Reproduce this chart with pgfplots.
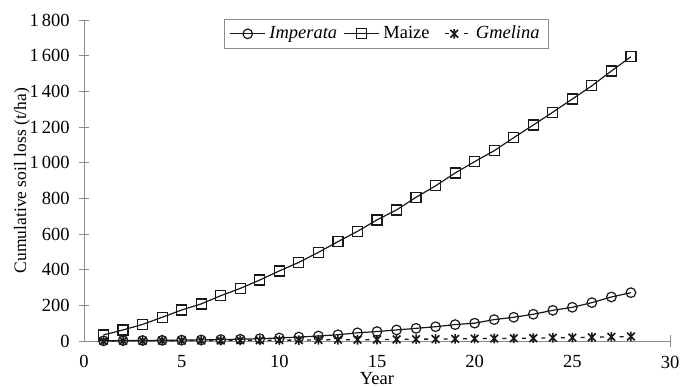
\documentclass[border=0pt]{standalone}
\usepackage{fontspec}
\setmainfont{Liberation Serif}
\usepackage{pgfplots}
\pgfplotsset{compat=1.18}
\definecolor{axgray}{RGB}{140,140,140}
\definecolor{linec}{RGB}{25,25,25}
\pgfdeclareplotmark{zhe}{%
 \pgfpathmoveto{\pgfqpoint{0pt}{\pgfplotmarksize}}\pgfpathlineto{\pgfqpoint{0pt}{-\pgfplotmarksize}}%
 \pgfpathmoveto{\pgfqpoint{-0.8\pgfplotmarksize}{0.8\pgfplotmarksize}}\pgfpathlineto{\pgfqpoint{0.8\pgfplotmarksize}{-0.8\pgfplotmarksize}}%
 \pgfpathmoveto{\pgfqpoint{0.8\pgfplotmarksize}{0.8\pgfplotmarksize}}\pgfpathlineto{\pgfqpoint{-0.8\pgfplotmarksize}{-0.8\pgfplotmarksize}}%
 \pgfusepathqstroke}
\begin{document}
\fontsize{18.5bp}{22bp}\selectfont
\begin{tikzpicture}
\begin{axis}[
  scale only axis,
  width=586bp, height=321bp,
  xmin=0, xmax=30, ymin=0, ymax=1800,
  axis lines=left,
  axis line style={-, draw=axgray, line width=0.8bp},
  xtick={0,5,10,15,20,25},
  extra x ticks={30},
  extra x tick style={x tick style={draw=axgray, line width=0.8bp}, tick align=center, major tick length=12bp},
  ytick={0,200,...,1800},
  x tick style={draw=none},
  y tick style={draw=axgray, line width=0.8bp},
  tick align=center,
  major tick length=10bp,
  /pgf/number format/assume math mode=true,
  /pgf/number format/1000 sep={\,},
  xlabel={Year},
  ylabel={Cumulative soil loss (t/ha)},
  xlabel style={at={(axis description cs:0.5,0)}, anchor=north, yshift=-31bp, inner sep=0pt},
  ylabel style={at={(axis description cs:0,0.5)}, anchor=south, yshift=54bp, inner sep=0pt,
    font=\fontsize{17.5bp}{21bp}\selectfont},
  xticklabel style={yshift=-3bp},
  yticklabel style={xshift=-3bp},
  legend style={at={(axis description cs:0.516,1.003)}, anchor=north, legend columns=-1,
    draw=axgray, line width=0.8bp, inner xsep=5bp, inner ysep=5bp, outer sep=0pt,
    /tikz/every even column/.append style={column sep=3bp},
    nodes={inner xsep=3.5bp, inner ysep=2bp},
    font=\fontsize{18.5bp}{22bp}\selectfont},
  legend cell align=left,
  legend image code/.code={%
    \draw[mark repeat=2,mark phase=2,#1] plot coordinates {(0bp,0bp)(17.5bp,0bp)(35bp,0bp)};},
]
\coordinate (O) at (rel axis cs:0,0);
\addplot[color=linec, line width=1.2bp, mark=o, mark size=4.8bp, mark options={fill=white, solid, line width=1.2bp}]
 coordinates {
 (1,1)(2,2)(3,3)(4,4)(5,5)(6,6)(7,8)(8,10)(9,13)(10,17)(11,22)(12,28)(13,35)(14,46)
 (15,53)(16,62)(17,71)(18,80)(19,92)(20,100)(21,120)(22,133)(23,150)(24,172)(25,189)
 (26,215)(27,247)(28,271)};
\addlegendentry{\textit{Imperata}}
\addplot[color=linec, line width=1.2bp, mark=square, mark size=5bp, mark options={fill=white, solid, line width=1.2bp}]
 coordinates {
 (1,34)(2,62)(3,93)(4,133)(5,174)(6,208)(7,254)(8,295)(9,342)(10,393)(11,441)(12,497)
 (13,557)(14,615)(15,679)(16,735)(17,806)(18,870)(19,942)(20,1006)(21,1067)(22,1140)
 (23,1211)(24,1283)(25,1357)(26,1431)(27,1514)(28,1594)};
\addlegendentry{Maize}
\addplot[color=linec, line width=1.3bp, dash pattern=on 4bp off 15.55bp, dash phase=11.75bp,
  mark=zhe, mark size=4.8bp, mark options={solid, line width=1.6bp}]
 coordinates {
 (1,0)(2,1)(3,1)(4,2)(5,2)(6,3)(7,3)(8,4)(9,4)(10,5)(11,5)(12,6)(13,7)(14,7)
 (15,8)(16,9)(17,10)(18,11)(19,12)(20,13)(21,14)(22,15)(23,16)(24,18)(25,19)
 (26,21)(27,23)(28,25)};
\addlegendentry{\textit{Gmelina}}
\end{axis}
\pgfresetboundingbox
\path (O) ++(-84bp,-47bp) rectangle ++(680bp,388bp);
\end{tikzpicture}
\end{document}
